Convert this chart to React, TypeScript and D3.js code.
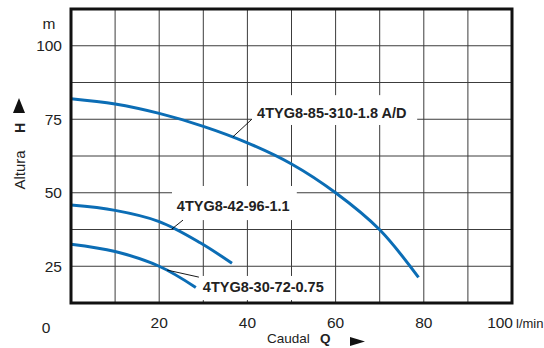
import React from "react";
import * as d3 from "d3";

const xTicks = [20, 40, 60, 80, 100];
const yTicks = [25, 50, 75, 100];
const xGrid = [10, 20, 30, 40, 50, 60, 70, 80, 90];
const yGrid = [25, 37.5, 50, 62.5, 75, 87.5, 100];

const curve1Q = [0, 10, 20, 30, 40, 50, 60, 70, 78.8];
const curve1H = [82, 80.2, 77, 72.6, 67, 59.8, 50, 37.4, 21.2];
const curve2Q = [0, 10, 20, 29.3, 36.5];
const curve2H = [45.8, 44, 40.2, 33, 26];
const curve3Q = [0, 10, 20, 28.3];
const curve3H = [32.5, 30, 25, 17.8];

const labelNames = ["4TYG8-85-310-1.8 A/D", "4TYG8-42-96-1.1", "4TYG8-30-72-0.75"];
// text anchor (Q, H), box [q0,q1,h0,h1], leader [q0,h0,q1,h1]
const labelTextQ = [42.2, 24.0, 29.9];
const labelTextH = [75.3, 43.8, 16.25];
const labelBox = [
  [41.0, 78.5, 83.2, 73.05],
  [22.9, 51.2, 52.3, 40.7],
  [28.8, 58.3, 21.7, 13.5],
];
const leaders = [
  [41.0, 75, 36.7, 69.0],
  [25.4, 40.7, 22.9, 37.7],
  [21.8, 23.7, 29.0, 21.3],
];

const W = 544;
const H = 348;
const left = 71, right = 512, top = 9, bottom = 303;
const FONT = "'Liberation Sans', Arial, Helvetica, sans-serif";
const BLUE = "#0b6db5";

export default function App() {
  const x = d3.scaleLinear().domain([0, 100]).range([left, right]);
  const y = d3.scaleLinear().domain([12.5, 112.5]).range([bottom, top]);
  const line = d3
    .line<[number, number]>()
    .x((d) => x(d[0]))
    .y((d) => y(d[1]))
    .curve(d3.curveCatmullRom.alpha(0.5));
  const curves = [
    curve1Q.map((q, i) => [q, curve1H[i]] as [number, number]),
    curve2Q.map((q, i) => [q, curve2H[i]] as [number, number]),
    curve3Q.map((q, i) => [q, curve3H[i]] as [number, number]),
  ];

  return (
    <svg
      width={W}
      height={H}
      style={{ position: "absolute", left: 0, top: 0, background: "#fff" }}
      fontFamily={FONT}
    >
      <rect x={0} y={0} width={W} height={H} fill="#fff" />
      {/* grid */}
      {xGrid.map((v) => (
        <line key={"vx" + v} x1={x(v)} x2={x(v)} y1={top} y2={bottom} stroke="#3c3c3c" strokeWidth={1} />
      ))}
      {yGrid.map((v) => (
        <line key={"hy" + v} x1={left} x2={right} y1={y(v)} y2={y(v)} stroke="#3c3c3c" strokeWidth={1} />
      ))}
      {/* label boxes */}
      {labelBox.map((b, i) => (
        <rect
          key={"box" + i}
          x={x(b[0])}
          y={y(b[2])}
          width={x(b[1]) - x(b[0])}
          height={y(b[3]) - y(b[2])}
          fill="#fff"
        />
      ))}
      {/* curves */}
      {curves.map((c, i) => (
        <path key={"c" + i} d={line(c) || ""} fill="none" stroke={BLUE} strokeWidth={3} />
      ))}
      {/* leaders */}
      {leaders.map((l, i) => (
        <line key={"ld" + i} x1={x(l[0])} y1={y(l[1])} x2={x(l[2])} y2={y(l[3])} stroke="#000" strokeWidth={0.9} />
      ))}
      {/* frame */}
      <rect x={left} y={top} width={right - left} height={bottom - top} fill="none" stroke="#111" strokeWidth={3} />
      {/* curve labels */}
      {labelNames.map((n, i) => (
        <text
          key={"lb" + i}
          x={x(labelTextQ[i])}
          y={y(labelTextH[i])}
          fontSize={14.5}
          fontWeight="bold"
          fill="#222"
        >
          {n}
        </text>
      ))}
      {/* y tick labels */}
      {yTicks.map((v) => (
        <text key={"yt" + v} x={62} y={y(v) + 5.5} textAnchor="end" fontSize={15.5} fill="#222">
          {v}
        </text>
      ))}
      <text x={49} y={29} textAnchor="middle" fontSize={15.5} fill="#222">m</text>
      <text x={46} y={333} textAnchor="middle" fontSize={15.5} fill="#222">0</text>
      {/* x tick labels */}
      {xTicks.map((v) => (
        <text
          key={"xt" + v}
          x={v === 100 ? x(v) + 1 : x(v)}
          y={328}
          textAnchor={v === 100 ? "end" : "middle"}
          fontSize={15.5}
          fill="#222"
        >
          {v}
        </text>
      ))}
      <text x={516} y={328} fontSize={13} fill="#222">l/min</text>
      {/* x axis title */}
      <text x={267} y={343} fontSize={13.5} fill="#222">Caudal</text>
      <text x={320} y={343} fontSize={13.5} fontWeight="bold" fill="#222">Q</text>
      <polygon points="350,337 350,346 365,341.5" fill="#111" />
      {/* y axis title */}
      <text transform="translate(25,170) rotate(-90)" textAnchor="middle" fontSize={15} fill="#222">Altura</text>
      <text transform="translate(25,128) rotate(-90)" textAnchor="middle" fontSize={14} fontWeight="bold" fill="#222">H</text>
      <polygon points="19,98 13,113 25,113" fill="#111" />
    </svg>
  );
}
